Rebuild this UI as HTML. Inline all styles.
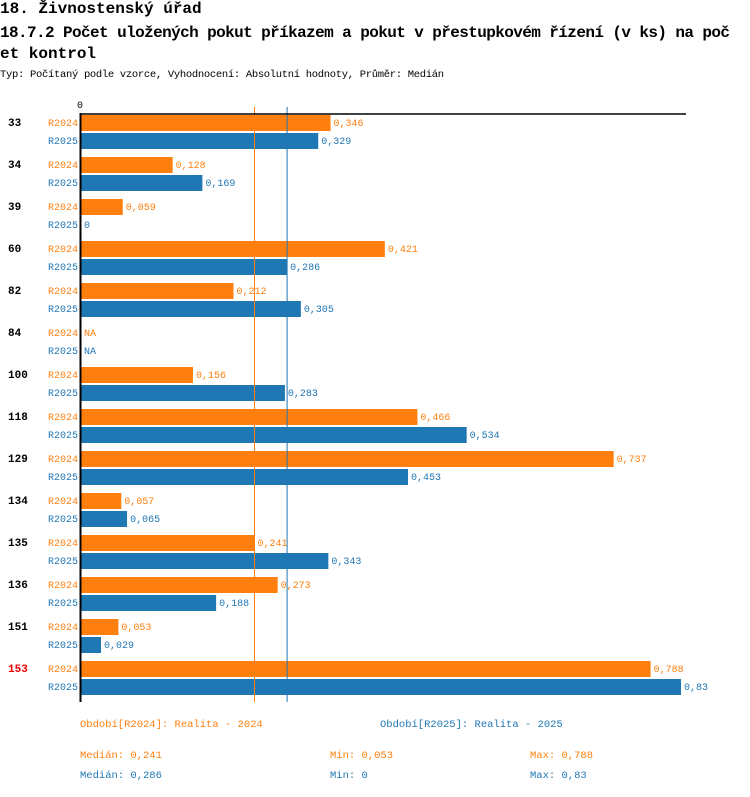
<!DOCTYPE html>
<html><head><meta charset="utf-8"><style>
body{margin:0;background:#fff;width:750px;height:792px;overflow:hidden;font-family:"Liberation Mono",monospace}
svg text{font-family:"Liberation Mono",monospace}
</style></head><body>
<svg id="c" width="750" height="792">
<text x="0" y="13" font-size="16" font-weight="bold">18. Živnostenský úřad</text>
<text x="0" y="37" font-size="16" font-weight="bold" textLength="730">18.7.2 Počet uložených pokut příkazem a pokut v přestupkovém řízení (v ks) na poč</text>
<text x="0" y="58" font-size="16" font-weight="bold">et kontrol</text>
<text x="0" y="77" font-size="10.5" textLength="444">Typ: Počítaný podle vzorce, Vyhodnocení: Absolutní hodnoty, Průměr: Medián</text>
<text x="77" y="108" font-size="10">0</text>
<g id="bars"></g>
<line x1="80" y1="114" x2="686" y2="114" stroke="#000" stroke-width="1.5"/>
<line x1="80.5" y1="113" x2="80.5" y2="702" stroke="#000" stroke-width="2"/>
<g font-size="10.5">
<text x="80" y="727" fill="#ff7f0e">Období[R2024]: Realita - 2024</text>
<text x="380" y="727" fill="#1f77b4">Období[R2025]: Realita - 2025</text>
<text x="80" y="758" fill="#ff7f0e">Medián: 0,241</text>
<text x="330" y="758" fill="#ff7f0e">Min: 0,053</text>
<text x="530" y="758" fill="#ff7f0e">Max: 0,788</text>
<text x="80" y="778" fill="#1f77b4">Medián: 0,286</text>
<text x="330" y="778" fill="#1f77b4">Min: 0</text>
<text x="530" y="778" fill="#1f77b4">Max: 0,83</text>
</g>
</svg>
<script>
const categories=["33","34","39","60","82","84","100","118","129","134","135","136","151","153"];
const values2024=[0.346,0.128,0.059,0.421,0.212,null,0.156,0.466,0.737,0.057,0.241,0.273,0.053,0.788];
const values2025=[0.329,0.169,0,0.286,0.305,null,0.283,0.534,0.453,0.065,0.343,0.188,0.029,0.83];
const median2024=0.241, median2025=0.286;
const highlighted=["153"];
const NS="http://www.w3.org/2000/svg";
const x0=80, scale=601/0.83;
const xs=v=>x0+v*scale;
const g=document.getElementById('bars');
function mk(t,a){const e=document.createElementNS(NS,t);for(const k in a)e.setAttribute(k,a[k]);return e;}
const fmt=v=>v===null?"NA":String(v).replace('.',',');
const C1="#ff7f0e",C2="#1f77b4";
categories.forEach((c,i)=>{
  const y=115+i*42;
  const lab=mk('text',{x:8,y:y+11,'font-size':11,'font-weight':'bold',fill:highlighted.includes(c)?'#e00':'#000'});
  lab.textContent=c;
  
  
  g.appendChild(lab);
  [[values2024[i],C1,'R2024',y],[values2025[i],C2,'R2025',y+18]].forEach(([v,col,s,yy])=>{
    const sl=mk('text',{x:78,y:yy+11,'font-size':10,fill:col,'text-anchor':'end'});
    sl.textContent=s;
    
    
    g.appendChild(sl);
    let end=x0+1;
    if(v!==null&&v>0){
      const r=mk('rect',{x:x0+1,y:yy,width:xs(v)-x0-1,height:16,fill:col});
      
      
      g.appendChild(r);
      end=xs(v);
    }
    const vl=mk('text',{x:end+3,y:yy+11,'font-size':10,fill:col});
    vl.textContent=fmt(v);
    
    
    g.appendChild(vl);
  });
});
[[median2024,C1,'median-line-r2024'],[median2025,C2,'median-line-r2025']].forEach(([m,col,n])=>{
  const l=mk('line',{x1:xs(m),x2:xs(m),y1:107,y2:702,stroke:col,'stroke-width':1});
  
  
  g.appendChild(l);
});
</script>
</body></html>
